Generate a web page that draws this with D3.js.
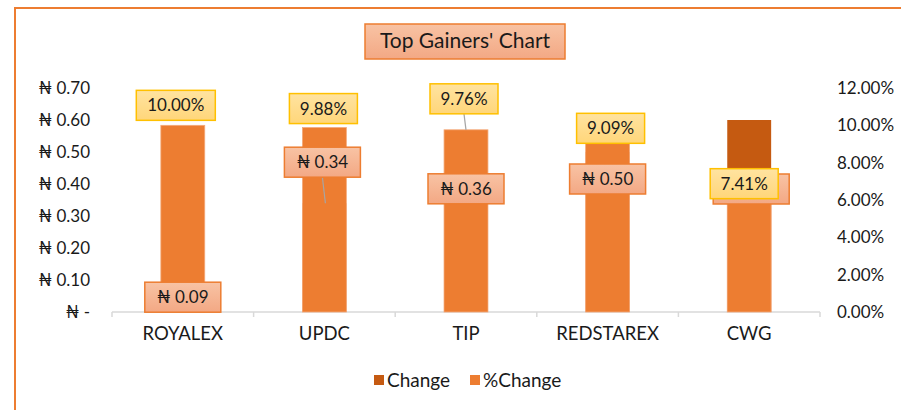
<!DOCTYPE html>
<html>
<head>
<meta charset="utf-8">
<script src="https://cdn.jsdelivr.net/npm/d3@7"></script>
<style>
  body { margin: 0; background: #fff; }
  text { font-family: Lato, "Noto Sans", "DejaVu Sans", sans-serif; fill: #1a1a1a; }
</style>
</head>
<body>
<div id="chart"></div>
<script>
// Data
const categories = ["ROYALEX", "UPDC", "TIP", "REDSTAREX", "CWG"];
const change = [0.09, 0.34, 0.36, 0.50, 0.60];
const pctChange = [0.10, 0.0988, 0.0976, 0.0909, 0.0741];
const leftTicks = [0, 0.1, 0.2, 0.3, 0.4, 0.5, 0.6, 0.7];
const rightTicks = [0, 0.02, 0.04, 0.06, 0.08, 0.10, 0.12];

// label offsets (moved labels, like in the sheet)
const pctLabelOffset = [[-7, -20], [-1, -19], [-2, -31], [3, -14], [-5, 10]];
const chgLabelOffset = [[0, 14], [-2, -41], [0, -8], [0, 27], [2, 69]];

const width = 901, height = 410;

const svg = d3.select('#chart')
    .append('svg')
    .attr('width', width)
    .attr('height', height);

const defs = svg.append('defs');
function grad(id, c1, c2) {
    const g = defs.append('linearGradient').attr('id', id)
        .attr('x1', 0).attr('y1', 0).attr('x2', 0).attr('y2', 1);
    g.append('stop').attr('offset', '0%').attr('stop-color', c1);
    g.append('stop').attr('offset', '100%').attr('stop-color', c2);
}
grad('salmon', '#f8c3a4', '#f3a884');
grad('yellow', '#ffe3a0', '#ffd67a');

// chart border (cut off at right/bottom)
svg.append('rect')
    .attr('x', 15).attr('y', 8)
    .attr('width', 900).attr('height', 420)
    .attr('fill', 'none')
    .attr('stroke', '#ed7d31')
    .attr('stroke-width', 2);

// Scales
const x = d3.scaleBand().domain(categories).range([112, 820]);
const yLeft = d3.scaleLinear().domain([0, 0.7]).range([312, 88]);
const yRight = d3.scaleLinear().domain([0, 0.12]).range([312, 88]);
const barW = x.bandwidth() * 0.31;

// Title
const title = svg.append('g').attr('transform', 'translate(465, 41)');
title.append('rect')
    .attr('x', -100).attr('y', -17).attr('width', 200).attr('height', 35)
    .attr('fill', 'url(#salmon)').attr('stroke', '#ed7d31').attr('stroke-width', 1.5);
title.append('text')
    .attr('text-anchor', 'middle').attr('dy', '0.35em')
    .style('font-size', '21px')
    .text("Top Gainers' Chart");

// Axes
svg.append('g')
    .attr('transform', 'translate(90,0)')
    .call(d3.axisLeft(yLeft).tickValues(leftTicks).tickSize(0).tickPadding(0)
        .tickFormat(d => d === 0 ? '₦ -' : '₦ ' + d3.format('.2f')(d)))
    .call(g => g.select('.domain').remove())
    .selectAll('text').style('font-size', '17px').attr('fill', '#1a1a1a');

svg.append('g')
    .attr('transform', 'translate(837,0)')
    .call(d3.axisRight(yRight).tickValues(rightTicks).tickSize(0).tickPadding(0)
        .tickFormat(d3.format('.2%')))
    .call(g => g.select('.domain').remove())
    .selectAll('text').style('font-size', '17px').attr('fill', '#1a1a1a');

// category axis
const xAxis = svg.append('g');
xAxis.append('line')
    .attr('x1', 112).attr('x2', 820).attr('y1', 312).attr('y2', 312)
    .attr('stroke', '#d9d9d9').attr('stroke-width', 1.5);
xAxis.selectAll('line.tick')
    .data(categories.concat(['end']))
    .join('line')
    .attr('class', 'tick')
    .attr('x1', (d, i) => i < categories.length ? x(d) : x.range()[1])
    .attr('x2', (d, i) => i < categories.length ? x(d) : x.range()[1])
    .attr('y1', 312).attr('y2', 317)
    .attr('stroke', '#d9d9d9').attr('stroke-width', 1.5);
xAxis.selectAll('text')
    .data(categories)
    .join('text')
    .attr('x', d => x(d) + x.bandwidth() / 2)
    .attr('y', 334)
    .attr('text-anchor', 'middle').attr('dy', '0.35em')
    .style('font-size', '18.5px')
    .text(d => d);

// Bars: Change (primary) behind %Change (secondary)
svg.append('g').selectAll('rect')
    .data(categories)
    .join('rect')
    .attr('x', d => x(d) + (x.bandwidth() - barW) / 2)
    .attr('width', barW)
    .attr('y', (d, i) => yLeft(change[i]))
    .attr('height', (d, i) => 312 - yLeft(change[i]))
    .attr('fill', '#c55a11');

svg.append('g').selectAll('rect')
    .data(categories)
    .join('rect')
    .attr('x', d => x(d) + (x.bandwidth() - barW) / 2)
    .attr('width', barW)
    .attr('y', (d, i) => yRight(pctChange[i]))
    .attr('height', (d, i) => 312 - yRight(pctChange[i]))
    .attr('fill', '#ed7d31')
    .attr('stroke', '#f4a878').attr('stroke-width', 0.8);

// Leader lines
const cx = i => x(categories[i]) + x.bandwidth() / 2;
const leaders = svg.append('g').attr('stroke', '#a5a5a5').attr('stroke-width', 1.2);
// UPDC change
leaders.append('line')
    .attr('x1', cx(1) + chgLabelOffset[1][0]).attr('y1', yLeft(change[1]) + chgLabelOffset[1][1] + 15)
    .attr('x2', cx(1) + 1).attr('y2', yLeft(change[1]));
// TIP pct
leaders.append('line')
    .attr('x1', cx(2) + pctLabelOffset[2][0]).attr('y1', yRight(pctChange[2]) + pctLabelOffset[2][1] + 15)
    .attr('x2', cx(2)).attr('y2', yRight(pctChange[2]));

// Data labels
function labels(values, scale, offsets, fmt, fill, stroke, w) {
    const g = svg.append('g').selectAll('g')
        .data(values)
        .join('g')
        .attr('transform', (d, i) =>
            `translate(${cx(i) + offsets[i][0]}, ${scale(d) + offsets[i][1]})`);
    g.append('rect')
        .attr('x', d => -w(d) / 2).attr('y', -15)
        .attr('width', d => w(d)).attr('height', 30)
        .attr('fill', fill).attr('stroke', stroke).attr('stroke-width', 1.5);
    g.append('text')
        .attr('text-anchor', 'middle').attr('dy', '0.35em')
        .style('font-size', '17px')
        .text(fmt);
}

labels(change, yLeft, chgLabelOffset, d => '₦ ' + d3.format('.2f')(d),
    'url(#salmon)', '#ed7d31', () => 76);
labels(pctChange, yRight, pctLabelOffset, d3.format('.2%'),
    'url(#yellow)', '#ffc000', d => d >= 0.1 ? 79 : 68);

// Legend
const legend = svg.append('g').attr('transform', 'translate(0, 380)');
const legendItems = [
    { name: 'Change', color: '#c55a11', x: 374 },
    { name: '%Change', color: '#ed7d31', x: 470 },
];
const li = legend.selectAll('g')
    .data(legendItems)
    .join('g')
    .attr('transform', d => `translate(${d.x}, 0)`);
li.append('rect')
    .attr('x', 0).attr('y', -5).attr('width', 10).attr('height', 10)
    .attr('fill', d => d.color);
li.append('text')
    .attr('x', 13).attr('dy', '0.35em')
    .style('font-size', '19px')
    .text(d => d.name);
</script>
</body>
</html>
